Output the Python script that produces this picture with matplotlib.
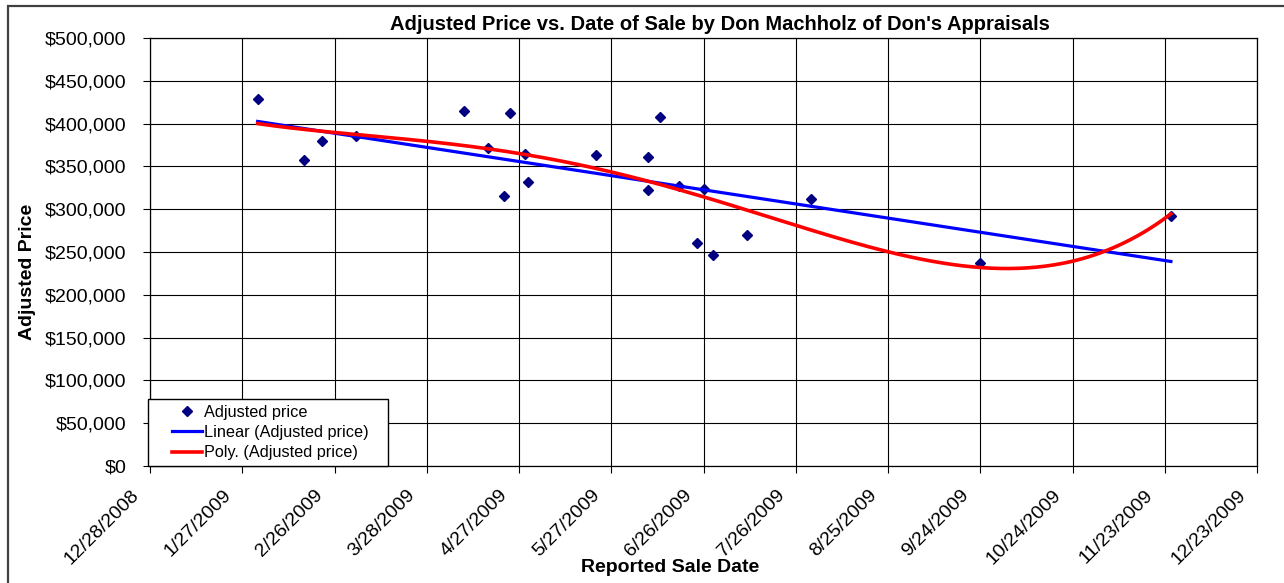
import matplotlib
matplotlib.use("Agg")
import matplotlib.pyplot as plt
import matplotlib.dates as mdates
import matplotlib.transforms as mtransforms
from matplotlib.patches import Rectangle
from matplotlib.legend_handler import HandlerLine2D
from matplotlib.ticker import FuncFormatter, FixedLocator, MultipleLocator
import numpy as np
import datetime as dt

plt.rcParams['font.family'] = ['Liberation Sans', 'DejaVu Sans']

# sale dates and adjusted prices
sale_dates = ['2009-02-01', '2009-02-16', '2009-02-22', '2009-03-05', '2009-04-09',
              '2009-04-17', '2009-04-24', '2009-04-22', '2009-04-29', '2009-04-30',
              '2009-05-22', '2009-06-08', '2009-06-12', '2009-06-08', '2009-06-18',
              '2009-06-26', '2009-06-24', '2009-06-29', '2009-07-10', '2009-07-31',
              '2009-09-24', '2009-11-25']
prices = [429000, 357500, 380000, 385500, 415000,
          371800, 412000, 315800, 364500, 332100,
          363000, 361300, 408000, 322000, 327100,
          323600, 260900, 246100, 269500, 311900,
          237500, 292400]

tick_dates = ['2008-12-28', '2009-01-27', '2009-02-26', '2009-03-28', '2009-04-27',
              '2009-05-27', '2009-06-26', '2009-07-26', '2009-08-25', '2009-09-24',
              '2009-10-24', '2009-11-23', '2009-12-23']

xs = np.array([mdates.date2num(dt.date.fromisoformat(d)) for d in sale_dates])
ys = np.array(prices, dtype=float)
xticks = [mdates.date2num(dt.date.fromisoformat(d)) for d in tick_dates]

# trendlines like excel does them
x0 = xs.mean()
lin = np.polyfit(xs - x0, ys, 1)
poly = np.polyfit(xs - x0, ys, 4)
xx = np.linspace(xs.min(), xs.max(), 300)


class PadHandler(HandlerLine2D):
    # push the legend handle to the right, excel style
    def create_artists(self, legend, orig_handle, xdescent, ydescent, width, height, fontsize, trans):
        pad = 13
        return super().create_artists(legend, orig_handle, xdescent - pad, ydescent,
                                      width - pad, height, fontsize, trans)


fig = plt.figure(figsize=(12.84, 5.83), dpi=100)
ax = fig.add_axes([150/1284, 1-466/583, 1107/1284, 428/583])

ax.plot(xs, ys, linestyle='none', marker='D', markersize=4.6, color='#000080',
        label='Adjusted price', zorder=3)
ax.plot(xx, np.polyval(lin, xx - x0), color='#0000ff', lw=2.3,
        label='Linear (Adjusted price)', zorder=4)
ax.plot(xx, np.polyval(poly, xx - x0), color='#ff0000', lw=2.6,
        label='Poly. (Adjusted price)', zorder=5)

ax.set_xlim(xticks[0], xticks[-1])
ax.set_ylim(0, 500000)
ax.xaxis.set_major_locator(FixedLocator(xticks))
ax.yaxis.set_major_locator(MultipleLocator(50000))

def date_fmt(v, pos):
    d = mdates.num2date(v)
    return f"{d.month}/{d.day}/{d.year}"

ax.xaxis.set_major_formatter(FuncFormatter(date_fmt))
ax.yaxis.set_major_formatter(FuncFormatter(lambda v, p: f"${int(v):,}"))

ax.grid(True, color='black', lw=0.8)
ax.set_axisbelow(True)
for s in ax.spines.values():
    s.set_color('black')
    s.set_linewidth(0.9)

ax.tick_params(axis='y', direction='out', length=5, width=0.8, pad=12, labelsize=14)
ax.tick_params(axis='x', direction='out', length=5, width=0.8, pad=14, labelsize=14)

offset = mtransforms.ScaledTranslation(-14/100, 0, fig.dpi_scale_trans)
for lab in ax.get_xticklabels():
    lab.set_rotation(45)
    lab.set_ha('right')
    lab.set_va('center')
    lab.set_rotation_mode('anchor')
    lab.set_transform(lab.get_transform() + offset)

fig.text(720/1284, 1-25/583, "Adjusted Price vs. Date of Sale by Don Machholz of Don's Appraisals",
         ha='center', va='center', fontsize=14.5, fontweight='bold')
fig.text(670/1284, 1-567/583, "Reported Sale Date", ha='center', va='center',
         fontsize=14, fontweight='bold')
fig.text(27/1284, 1-272/583, "Adjusted Price", ha='center', va='center',
         rotation=90, fontsize=14, fontweight='bold')

handles, labels = ax.get_legend_handles_labels()
labels = [l + '   ' for l in labels]
leg = ax.legend(handles, labels, loc='lower left', bbox_to_anchor=(-0.002, 0), borderaxespad=0,
                fancybox=False, edgecolor='black', framealpha=1, fontsize=11.7,
                handlelength=3.0, handletextpad=0.1, borderpad=0.35,
                labelspacing=0.32, handler_map={matplotlib.lines.Line2D: PadHandler()})
leg.get_frame().set_linewidth(1.0)

# outer chart frame
fig.add_artist(Rectangle((8/1284, -0.1), 1.2, 1.1 - 6/583, transform=fig.transFigure,
                         fill=False, edgecolor='#404040', lw=1.6, clip_on=False))

fig.savefig('out.png', dpi=100)
